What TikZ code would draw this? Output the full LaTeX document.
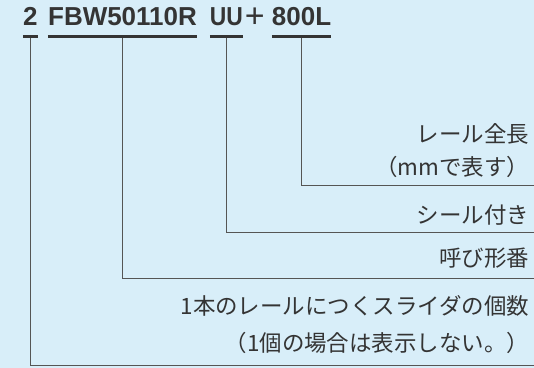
\documentclass[tikz,border=0pt]{standalone}
\usepackage{fontspec}
\newfontfamily\codefont{Liberation Sans}
\newfontfamily\cjk{Noto Sans CJK JP}
\definecolor{paper}{RGB}{216,238,249}
\definecolor{ink}{RGB}{52,52,52}
\definecolor{wire}{RGB}{85,85,85}
\tikzset{
  code/.style={inner sep=0pt, anchor=base west, text=ink, font=\codefont\bfseries\fontsize{26}{28}\selectfont},
  note/.style={inner sep=0pt, anchor=east, text=ink, font=\cjk\fontsize{22.5}{26}\selectfont},
  uline/.style={draw=ink, line width=3pt},
  leader/.style={draw=wire, line width=1pt}
}
\begin{document}
\begin{tikzpicture}[x=1pt, y=-1pt]
  % background
  \fill[paper] (0,0) rectangle (534,368);

  % the part number
  \node[code] (n2)   at (23,26)  {2};
  \node[code] (nFBW) at (48,26)  {FBW50110R};
  \node[code, xscale=0.88] (nUU)  at (210,26) {UU};
  \node[code, font=\codefont\fontsize{34}{36}\selectfont] (nplus) at (245,28) {+};
  \node[code] (nL)   at (272,26) {800L};

  % underlines
  \foreach \n in {n2, nFBW, nUU, nL}
    \draw[uline] ([yshift=-11pt]\n.base west) -- ([yshift=-11pt]\n.base east);

  % explanations
  \node[note] (tLen)   at (530,134) {レール全長};
  \node[note] (tMM)    at (530,167) {（mmで表す）};
  \node[note] (tSeal)  at (530,215) {シール付き};
  \node[note] (tType)  at (530,258) {呼び形番};
  \node[note] (tCount) at (530,306) {1本のレールにつくスライダの個数};
  \node[note] (tOne)   at (530,343) {（1個の場合は表示しない。）};

  % ends of the leaders
  \coordinate (eL)   at (534,186);
  \coordinate (eUU)  at (534,233);
  \coordinate (eFBW) at (534,279);
  \coordinate (e2)   at (534,366);

  % leaders
  \draw[leader] ([yshift=-12pt]nL.base)   |- (eL);
  \draw[leader] ([yshift=-12pt]nUU.base)  |- (eUU);
  \draw[leader] ([yshift=-12pt]nFBW.base) |- (eFBW);
  \draw[leader] ([yshift=-12pt]n2.base)   |- (e2);
\end{tikzpicture}
\end{document}
